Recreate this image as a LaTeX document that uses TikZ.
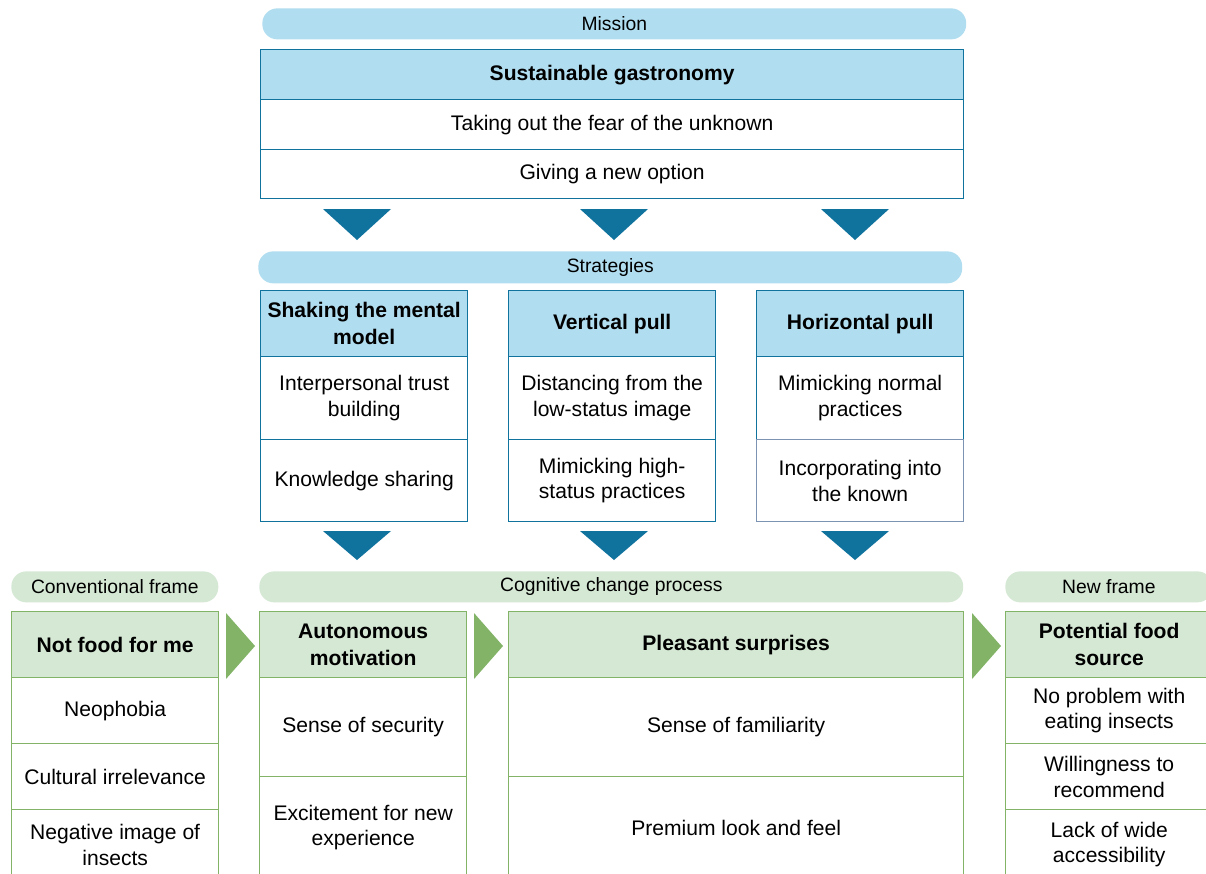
\documentclass[tikz,border=0pt]{standalone}
\usepackage{fontspec}
\setmainfont{Liberation Sans}

\definecolor{blueFill}{HTML}{B1DDF0}
\definecolor{blueLine}{HTML}{10739E}
\definecolor{greenFill}{HTML}{D5E8D4}
\definecolor{greenLine}{HTML}{82B366}
\definecolor{greyLine}{HTML}{7D93B2}

\begin{document}
\begin{tikzpicture}[
    x=0.02cm, y=-0.02cm,
    pill/.style={rectangle, rounded corners=8.5pt, anchor=north west,
        minimum height=0.62cm, inner sep=0pt,
        font=\fontsize{11}{13}\selectfont},
    cell/.style={rectangle, anchor=north west, line width=0.8pt,
        inner sep=0pt, align=center, fill=white,
        font=\fontsize{12}{14.6}\selectfont},
    head/.style={cell, font=\fontsize{12}{15.2}\selectfont\bfseries},
    bluecell/.style={cell, draw=blueLine},
    bluehead/.style={head, draw=blueLine, fill=blueFill},
    greencell/.style={cell, draw=greenLine},
    greenhead/.style={head, draw=greenLine, fill=greenFill}
]

    % Page
    \clip (0,0) rectangle (1206,873);
    \fill[white] (0,0) rectangle (1206,873);

    % Mission block
    \node[pill, fill=blueFill, minimum width=14.08cm] (mission) at (262,8) {Mission};
    \node[bluehead, minimum width=14.06cm, minimum height=1cm] (susGastro) at (260,49) {Sustainable gastronomy};
    \node[bluecell, minimum width=14.06cm, minimum height=1cm] (fearUnknown) at (260,99) {Taking out the fear of the unknown};
    \node[bluecell, minimum width=14.06cm, minimum height=0.98cm] (newOption) at (260,149) {Giving a new option};

    % Blue arrows down
    \foreach \x in {357,614,855} {
        \fill[blueLine] (\x-34,209) -- (\x+34,209) -- (\x,240) -- cycle;
        \fill[blueLine] (\x-34,531) -- (\x+34,531) -- (\x,560) -- cycle;
    }

    % Strategies block
    \node[pill, fill=blueFill, minimum width=14.08cm, minimum height=0.64cm] (strategies) at (258,251) {Strategies};

    \node[bluehead, minimum width=4.14cm, minimum height=1.32cm] (shaking) at (260,290) {Shaking the mental\\model};
    \node[bluecell, minimum width=4.14cm, minimum height=1.66cm] (trust) at (260,356) {Interpersonal trust\\building};
    \node[bluecell, minimum width=4.14cm, minimum height=1.64cm] (knowledge) at (260,439) {Knowledge sharing};

    \node[bluehead, minimum width=4.14cm, minimum height=1.32cm] (vertical) at (508,290) {Vertical pull};
    \node[bluecell, minimum width=4.14cm, minimum height=1.66cm] (distancing) at (508,356) {Distancing from the\\low-status image};
    \node[bluecell, minimum width=4.14cm, minimum height=1.64cm] (highStatus) at (508,439) {Mimicking high-\\status practices};

    \node[bluehead, minimum width=4.14cm, minimum height=1.32cm] (horizontal) at (756,290) {Horizontal pull};
    \node[bluecell, minimum width=4.14cm, minimum height=1.66cm] (normalPractices) at (756,356) {Mimicking normal\\practices};
    \node[cell, draw=greyLine, minimum width=4.14cm, minimum height=1.64cm] (incorporating) at (756,439) {Incorporating into\\the known};

    % Frame labels
    \node[pill, fill=greenFill, minimum width=4.14cm] (conventional) at (11,571) {Conventional frame};
    \node[pill, fill=greenFill, minimum width=14.08cm] (cognitive) at (259,571) {Cognitive change process};
    \node[pill, fill=greenFill, minimum width=4.14cm] (newFrame) at (1005,571) {New frame};

    % Conventional frame
    \node[greenhead, minimum width=4.14cm, minimum height=1.32cm] (notFood) at (11,611) {Not food for me};
    \node[greencell, minimum width=4.14cm, minimum height=1.32cm] (neophobia) at (11,677) {Neophobia};
    \node[greencell, minimum width=4.14cm, minimum height=1.32cm] (cultural) at (11,743) {Cultural irrelevance};
    \node[greencell, minimum width=4.14cm, minimum height=1.4cm] (negImage) at (11,809) {Negative image of\\insects};

    % Cognitive change process
    \node[greenhead, minimum width=4.14cm, minimum height=1.32cm] (autonomous) at (259,611) {Autonomous\\motivation};
    \node[greencell, minimum width=4.14cm, minimum height=1.98cm] (security) at (259,677) {Sense of security};
    \node[greencell, minimum width=4.14cm, minimum height=2.04cm] (excitement) at (259,776) {Excitement for new\\experience};

    \node[greenhead, minimum width=9.1cm, minimum height=1.32cm] (pleasant) at (508,611) {Pleasant surprises};
    \node[greencell, minimum width=9.1cm, minimum height=1.98cm] (familiarity) at (508,677) {Sense of familiarity};
    \node[greencell, minimum width=9.1cm, minimum height=2.04cm] (premium) at (508,776) {Premium look and feel};

    % New frame
    \node[greenhead, minimum width=4.14cm, minimum height=1.32cm] (potential) at (1005,611) {Potential food\\source};
    \node[greencell, minimum width=4.14cm, minimum height=1.32cm] (noProblem) at (1005,677) {No problem with\\eating insects};
    \node[greencell, minimum width=4.14cm, minimum height=1.32cm] (recommend) at (1005,743) {Willingness to\\recommend};
    \node[greencell, minimum width=4.14cm, minimum height=1.4cm] (accessibility) at (1005,809) {Lack of wide\\accessibility};

    % Green arrows right
    \foreach \x in {226,474,972}
        \fill[greenLine] (\x,613) -- (\x+29,646) -- (\x,679) -- cycle;

\end{tikzpicture}
\end{document}
